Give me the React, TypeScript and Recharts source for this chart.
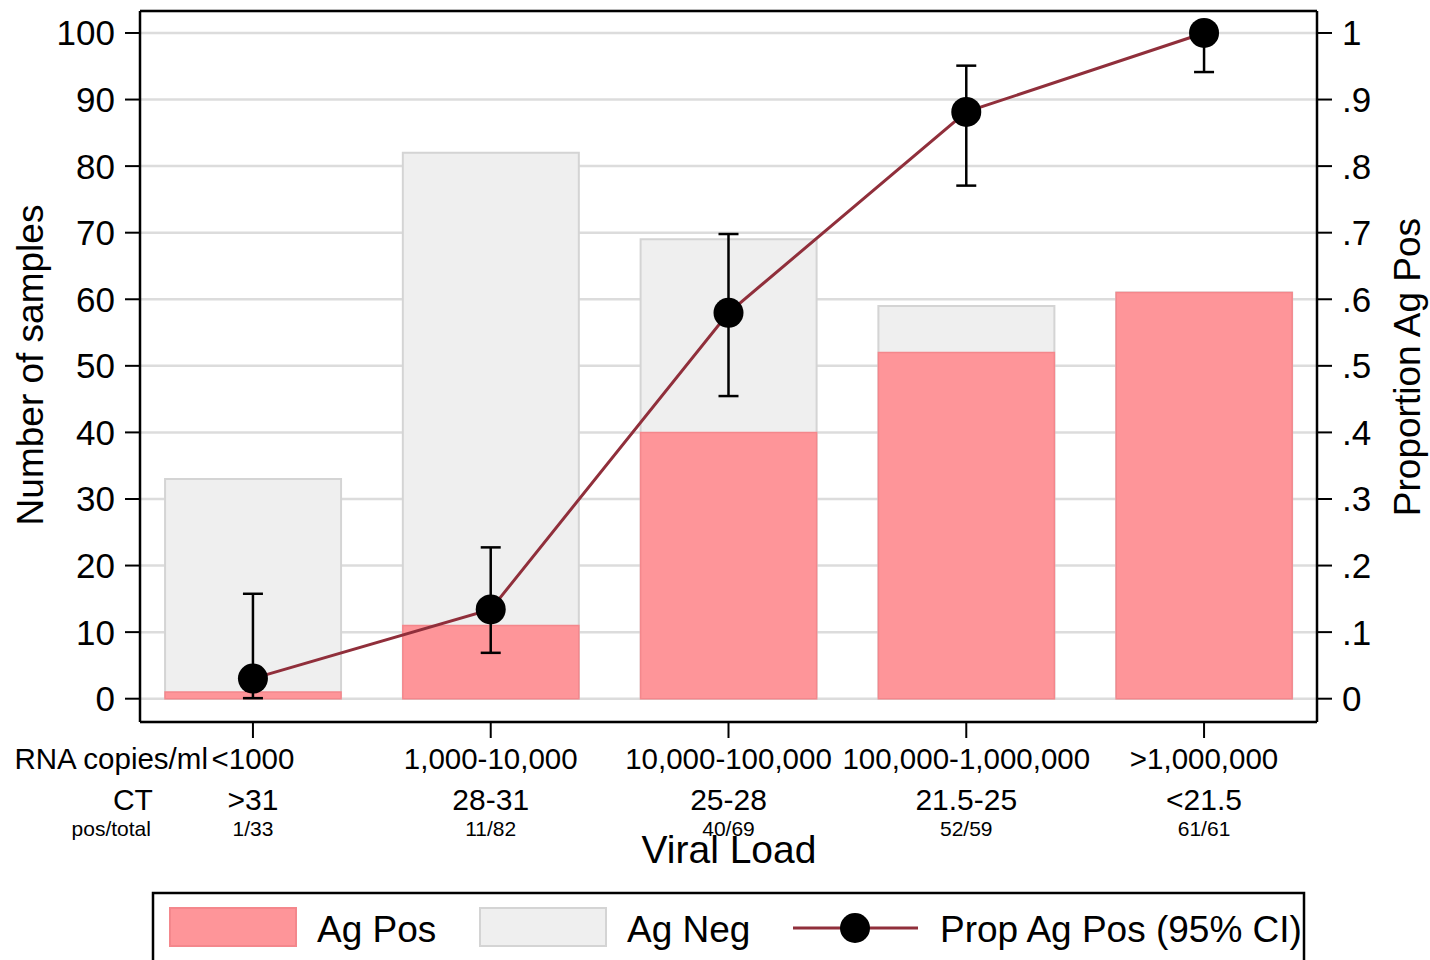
import React from 'react';
import {
  ComposedChart,
  Bar,
  Line,
  XAxis,
  YAxis,
  CartesianGrid,
  ErrorBar,
  ReferenceLine,
} from 'recharts';

const viralLoad = ['<1000', '1,000-10,000', '10,000-100,000', '100,000-1,000,000', '>1,000,000'];
const ctRange = ['>31', '28-31', '25-28', '21.5-25', '<21.5'];
const agPos = [1, 11, 40, 52, 61];
const total = [33, 82, 69, 59, 61];
const propPos = [0.0303, 0.1341, 0.5797, 0.8814, 1.0];
const ciLow = [0.0008, 0.0689, 0.4546, 0.7707, 0.9413];
const ciHigh = [0.1576, 0.2273, 0.698, 0.9509, 1.0];
const countTicks = [0, 10, 20, 30, 40, 50, 60, 70, 80, 90, 100];
const propTicks = [0, 0.1, 0.2, 0.3, 0.4, 0.5, 0.6, 0.7, 0.8, 0.9, 1];

const FONT = '"Liberation Sans", Arial, Helvetica, sans-serif';
const PINK = '#fe9599';
const PINK_EDGE = '#f4878c';
const GREY = '#efefef';
const GREY_EDGE = '#d4d4d4';
const LINE = '#902f3b';

const rows = viralLoad.map((v, i) => ({
  x: i + 1,
  pos: agPos[i],
  total: total[i],
  prop: propPos[i],
  ci: [propPos[i] - ciLow[i], ciHigh[i] - propPos[i]],
}));

function CategoryTick(props: any) {
  const { x, y, payload } = props;
  const i = payload.value - 1;
  return (
    <g fontFamily={FONT} fill="#000">
      <text x={x} y={y + 31} textAnchor="middle" fontSize={29.5}>{viralLoad[i]}</text>
      <text x={x} y={y + 72} textAnchor="middle" fontSize={30}>{ctRange[i]}</text>
      <text x={x} y={y + 98} textAnchor="middle" fontSize={21}>{`${agPos[i]}/${total[i]}`}</text>
      {i === 0 && (
        <>
          <text x={x - 45} y={y + 31} textAnchor="end" fontSize={29.5}>RNA copies/ml</text>
          <text x={x - 100} y={y + 72} textAnchor="end" fontSize={30}>CT</text>
          <text x={x - 102} y={y + 98} textAnchor="end" fontSize={21}>pos/total</text>
        </>
      )}
    </g>
  );
}

const propFmt = (v: number) => (v === 0 ? '0' : v === 1 ? '1' : '.' + Math.round(v * 10));

function LegendBox() {
  return (
    <svg
      width={1430}
      height={960}
      style={{ position: 'absolute', left: 0, top: 0, pointerEvents: 'none' }}
      fontFamily={FONT}
    >
      <defs>
        <clipPath id="legclip">
          <rect x={153} y={893} width={1151} height={80} />
        </clipPath>
      </defs>
      <g clipPath="url(#legclip)">
        <rect x={170} y={908} width={126} height={38} fill={PINK} stroke={PINK_EDGE} strokeWidth={2} />
        <text x={317} y={942} fontSize={37}>Ag Pos</text>
        <rect x={480} y={908} width={126} height={38} fill={GREY} stroke={GREY_EDGE} strokeWidth={2} />
        <text x={627} y={942} fontSize={37}>Ag Neg</text>
        <line x1={793} x2={918} y1={928} y2={928} stroke={LINE} strokeWidth={3} />
        <circle cx={855} cy={928} r={15} fill="#000" />
        <text x={940} y={942} fontSize={37}>Prop Ag Pos (95% CI)</text>
      </g>
      <rect x={153} y={893} width={1151} height={80} fill="none" stroke="#000" strokeWidth={2.5} />
    </svg>
  );
}

export default function App() {
  return (
    <div style={{ position: 'absolute', left: 0, top: 0, width: 1430, height: 960, overflow: 'hidden', background: '#fff' }}>
      <ComposedChart
        width={1430}
        height={960}
        data={rows}
        margin={{ top: 11, right: 0, bottom: 0, left: 0 }}
        barGap={-176}
      >
        <CartesianGrid yAxisId="left" vertical={false} stroke="#dcdcdc" strokeWidth={2.5} />
        <XAxis
          dataKey="x"
          type="number"
          domain={[0.525, 5.475]}
          ticks={[1, 2, 3, 4, 5]}
          interval={0}
          height={238}
          tickSize={16}
          tickMargin={0}
          axisLine={{ stroke: '#000', strokeWidth: 2.5 }}
          tickLine={{ stroke: '#000', strokeWidth: 2 }}
          tick={<CategoryTick />}
          label={() => (
            <text x={729} y={863} textAnchor="middle" fontSize={39} fontFamily={FONT} fill="#000">
              Viral Load
            </text>
          )}
        />
        <YAxis
          yAxisId="left"
          domain={[-3.5, 103.3]}
          ticks={countTicks}
          interval={0}
          width={140}
          tickSize={15}
          tickMargin={10}
          axisLine={{ stroke: '#000', strokeWidth: 2.5 }}
          tickLine={{ stroke: '#000', strokeWidth: 2 }}
          tick={{ fontSize: 35, fill: '#000', fontFamily: FONT }}
          label={() => (
            <text
              x={43}
              y={365}
              transform="rotate(-90, 43, 365)"
              textAnchor="middle"
              fontSize={37}
              fontFamily={FONT}
              fill="#000"
            >
              Number of samples
            </text>
          )}
        />
        <YAxis
          yAxisId="right"
          orientation="right"
          domain={[-0.035, 1.033]}
          ticks={propTicks}
          interval={0}
          width={113}
          tickSize={15}
          tickMargin={10}
          tickFormatter={propFmt}
          axisLine={{ stroke: '#000', strokeWidth: 2.5 }}
          tickLine={{ stroke: '#000', strokeWidth: 2 }}
          tick={{ fontSize: 35, fill: '#000', fontFamily: FONT }}
          label={() => (
            <text
              x={1420}
              y={367}
              transform="rotate(-90, 1420, 367)"
              textAnchor="middle"
              fontSize={37}
              fontFamily={FONT}
              fill="#000"
            >
              Proportion Ag Pos
            </text>
          )}
        />
        <ReferenceLine yAxisId="left" y={103.3} stroke="#000" strokeWidth={2.5} />
        <Bar
          yAxisId="left"
          dataKey="total"
          barSize={176}
          fill={GREY}
          stroke={GREY_EDGE}
          strokeWidth={2}
          isAnimationActive={false}
        />
        <Bar
          yAxisId="left"
          dataKey="pos"
          barSize={176}
          fill={PINK}
          stroke={PINK_EDGE}
          strokeWidth={1.5}
          isAnimationActive={false}
        />
        <Line
          yAxisId="right"
          dataKey="prop"
          type="linear"
          stroke={LINE}
          strokeWidth={3}
          dot={{ r: 15, fill: '#000', stroke: 'none' }}
          activeDot={false}
          isAnimationActive={false}
        >
          <ErrorBar dataKey="ci" width={10} stroke="#000" strokeWidth={2.5} />
        </Line>
      </ComposedChart>
      <LegendBox />
    </div>
  );
}
